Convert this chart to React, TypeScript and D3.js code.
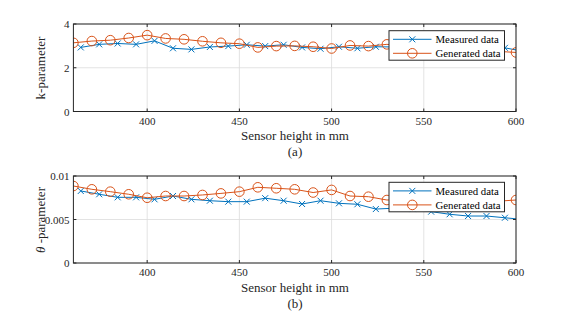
import React, { useEffect, useRef } from "react";
import * as d3 from "d3";

// heights in mm
const genHeights = [360, 370, 380, 390, 400, 410, 420, 430, 440, 450, 460, 470, 480, 490, 500, 510, 520, 530, 540, 550, 560, 570, 580, 590, 600];
const measHeights = [364, 374, 384, 394, 404, 414, 424, 434, 444, 454, 464, 474, 484, 494, 504, 514, 524, 534, 544, 554, 564, 574, 584, 594, 604];

// k-parameter
const kMeasured = [2.93, 3.07, 3.11, 3.07, 3.23, 2.89, 2.84, 2.95, 2.99, 3.05, 2.99, 3.05, 2.93, 2.87, 2.96, 2.89, 2.96, 2.95, 2.95, 2.95, 2.95, 2.93, 2.93, 2.91, 2.75];
const kGenerated = [3.14, 3.22, 3.26, 3.36, 3.49, 3.34, 3.30, 3.21, 3.14, 3.10, 2.93, 2.99, 3.0, 2.96, 2.88, 3.02, 2.99, 3.07, 3.0, 2.95, 2.9, 2.85, 2.8, 2.75, 2.70];

// theta-parameter
const thMeasured = [0.00828, 0.0079, 0.00755, 0.00755, 0.00732, 0.0077, 0.00732, 0.00716, 0.00705, 0.00705, 0.00745, 0.00716, 0.00678, 0.00716, 0.00686, 0.00675, 0.0062, 0.0063, 0.0062, 0.0059, 0.0056, 0.0054, 0.0054, 0.0052, 0.005];
const thGenerated = [0.00885, 0.00847, 0.0082, 0.0079, 0.0075, 0.0077, 0.0077, 0.00782, 0.008, 0.0082, 0.0087, 0.00859, 0.00847, 0.0081, 0.0084, 0.0077, 0.00762, 0.00724, 0.0073, 0.0072, 0.0072, 0.0071, 0.0071, 0.0071, 0.00724];

const xTicks = [400, 450, 500, 550, 600];
const kTicks = [0, 2, 4];
const thTicks = [0, 0.005, 0.01];
const seriesNames = ["Measured data", "Generated data"];

const BLUE = "#0072BD";
const ORANGE = "#D95319";
const FONT = "Liberation Serif, Tinos, Times New Roman, DejaVu Serif, serif";

const left = 73.4, right = 516;

function Panel(props: any) {
  const ref = useRef<SVGGElement>(null);
  const { top, bottom, yDomain, yTicks, meas, gen, legendTop, id } = props;

  useEffect(() => {
    const g = d3.select(ref.current);
    g.selectAll("*").remove();
    const x = d3.scaleLinear().domain([360, 600]).range([left, right]);
    const y = d3.scaleLinear().domain(yDomain).range([bottom, top]);

    g.append("rect").attr("x", left).attr("y", top).attr("width", right - left).attr("height", bottom - top).attr("fill", "#fff");

    // grid
    g.selectAll(".gx").data(xTicks).enter().append("line")
      .attr("x1", (d) => x(d)).attr("x2", (d) => x(d)).attr("y1", top).attr("y2", bottom)
      .attr("stroke", "#dcdcdc").attr("stroke-width", 0.8);
    g.selectAll(".gy").data(yTicks).enter().append("line")
      .attr("x1", left).attr("x2", right).attr("y1", (d: any) => y(d)).attr("y2", (d: any) => y(d))
      .attr("stroke", "#dcdcdc").attr("stroke-width", 0.8);

    g.append("clipPath").attr("id", id).append("rect")
      .attr("x", left).attr("y", top - 8).attr("width", right - left).attr("height", bottom - top + 16);

    const data = g.append("g").attr("clip-path", `url(#${id})`);
    const line = d3.line<[number, number]>().x((d) => x(d[0])).y((d) => y(d[1]));

    const measPts: [number, number][] = measHeights.map((h, i) => [h, meas[i]]);
    const genPts: [number, number][] = genHeights.map((h, i) => [h, gen[i]]);

    data.append("path").attr("d", line(measPts)).attr("fill", "none").attr("stroke", BLUE).attr("stroke-width", 1);
    data.selectAll(".mx").data(measPts.filter((d) => d[0] <= 600)).enter().append("path")
      .attr("d", (d) => { const cx = x(d[0]), cy = y(d[1]), s = 3; return `M${cx - s},${cy - s}L${cx + s},${cy + s}M${cx - s},${cy + s}L${cx + s},${cy - s}`; })
      .attr("stroke", BLUE).attr("stroke-width", 1).attr("fill", "none");

    data.append("path").attr("d", line(genPts)).attr("fill", "none").attr("stroke", ORANGE).attr("stroke-width", 1);
    data.selectAll(".mo").data(genPts).enter().append("circle")
      .attr("cx", (d) => x(d[0])).attr("cy", (d) => y(d[1])).attr("r", 4.8)
      .attr("fill", "none").attr("stroke", ORANGE).attr("stroke-width", 1);

    // axes box
    g.append("rect").attr("x", left).attr("y", top).attr("width", right - left).attr("height", bottom - top)
      .attr("fill", "none").attr("stroke", "#262626").attr("stroke-width", 1);

    // inward ticks
    xTicks.forEach((t) => {
      g.append("line").attr("x1", x(t)).attr("x2", x(t)).attr("y1", bottom).attr("y2", bottom - 3).attr("stroke", "#262626");
      g.append("line").attr("x1", x(t)).attr("x2", x(t)).attr("y1", top).attr("y2", top + 3).attr("stroke", "#262626");
      g.append("text").attr("x", x(t)).attr("y", bottom + 13).attr("text-anchor", "middle")
        .attr("font-size", 11).attr("font-family", FONT).attr("fill", "#262626").text(t);
    });
    yTicks.forEach((t: number) => {
      g.append("line").attr("x1", left).attr("x2", left + 3).attr("y1", y(t)).attr("y2", y(t)).attr("stroke", "#262626");
      g.append("line").attr("x1", right).attr("x2", right - 3).attr("y1", y(t)).attr("y2", y(t)).attr("stroke", "#262626");
      g.append("text").attr("x", left - 4).attr("y", y(t) + 4).attr("text-anchor", "end")
        .attr("font-size", 11).attr("font-family", FONT).attr("fill", "#262626").text(String(t));
    });

    // legend
    const lx = 389, lw = 115.5, lh = 29.5;
    const lg = g.append("g");
    lg.append("rect").attr("x", lx).attr("y", legendTop).attr("width", lw).attr("height", lh)
      .attr("fill", "#fff").attr("stroke", "#262626").attr("stroke-width", 1);
    seriesNames.forEach((name, i) => {
      const cy = legendTop + 8.6 + i * 14;
      const col = i === 0 ? BLUE : ORANGE;
      lg.append("line").attr("x1", lx + 4).attr("x2", lx + 42.5).attr("y1", cy).attr("y2", cy).attr("stroke", col);
      const mx = lx + 23.3;
      if (i === 0) {
        lg.append("path").attr("d", `M${mx - 3},${cy - 3}L${mx + 3},${cy + 3}M${mx - 3},${cy + 3}L${mx + 3},${cy - 3}`).attr("stroke", col);
      } else {
        lg.append("circle").attr("cx", mx).attr("cy", cy).attr("r", 4.8).attr("fill", "none").attr("stroke", col);
      }
      lg.append("text").attr("x", lx + 46.5).attr("y", cy + 4).attr("font-size", 10.8).attr("font-family", FONT)
        .attr("fill", "#000").text(name);
    });
  }, []);

  return <g ref={ref} />;
}

export default function App() {
  useEffect(() => {
    document.body.style.margin = "0";
  }, []);
  return (
    <svg width={570} height={318} style={{ display: "block", background: "#fff" }}>
      <Panel id="clipA" top={24} bottom={111.5} yDomain={[0, 4]} yTicks={kTicks}
        meas={kMeasured} gen={kGenerated} legendTop={30.7} />
      <Panel id="clipB" top={176} bottom={263} yDomain={[0, 0.01]} yTicks={thTicks}
        meas={thMeasured} gen={thGenerated} legendTop={182.3} />
      <g fontFamily={FONT} fill="#262626" fontSize={13} textAnchor="middle">
        <text x={295} y={140}>Sensor height in mm</text>
        <text x={295} y={156}>(a)</text>
        <text x={295} y={292}>Sensor height in mm</text>
        <text x={295} y={308}>(b)</text>
        <text transform="translate(45,68) rotate(-90)">k-parameter</text>
        <text transform="translate(45,220) rotate(-90)">
          <tspan fontStyle="italic">θ</tspan> -parameter
        </text>
      </g>
    </svg>
  );
}
